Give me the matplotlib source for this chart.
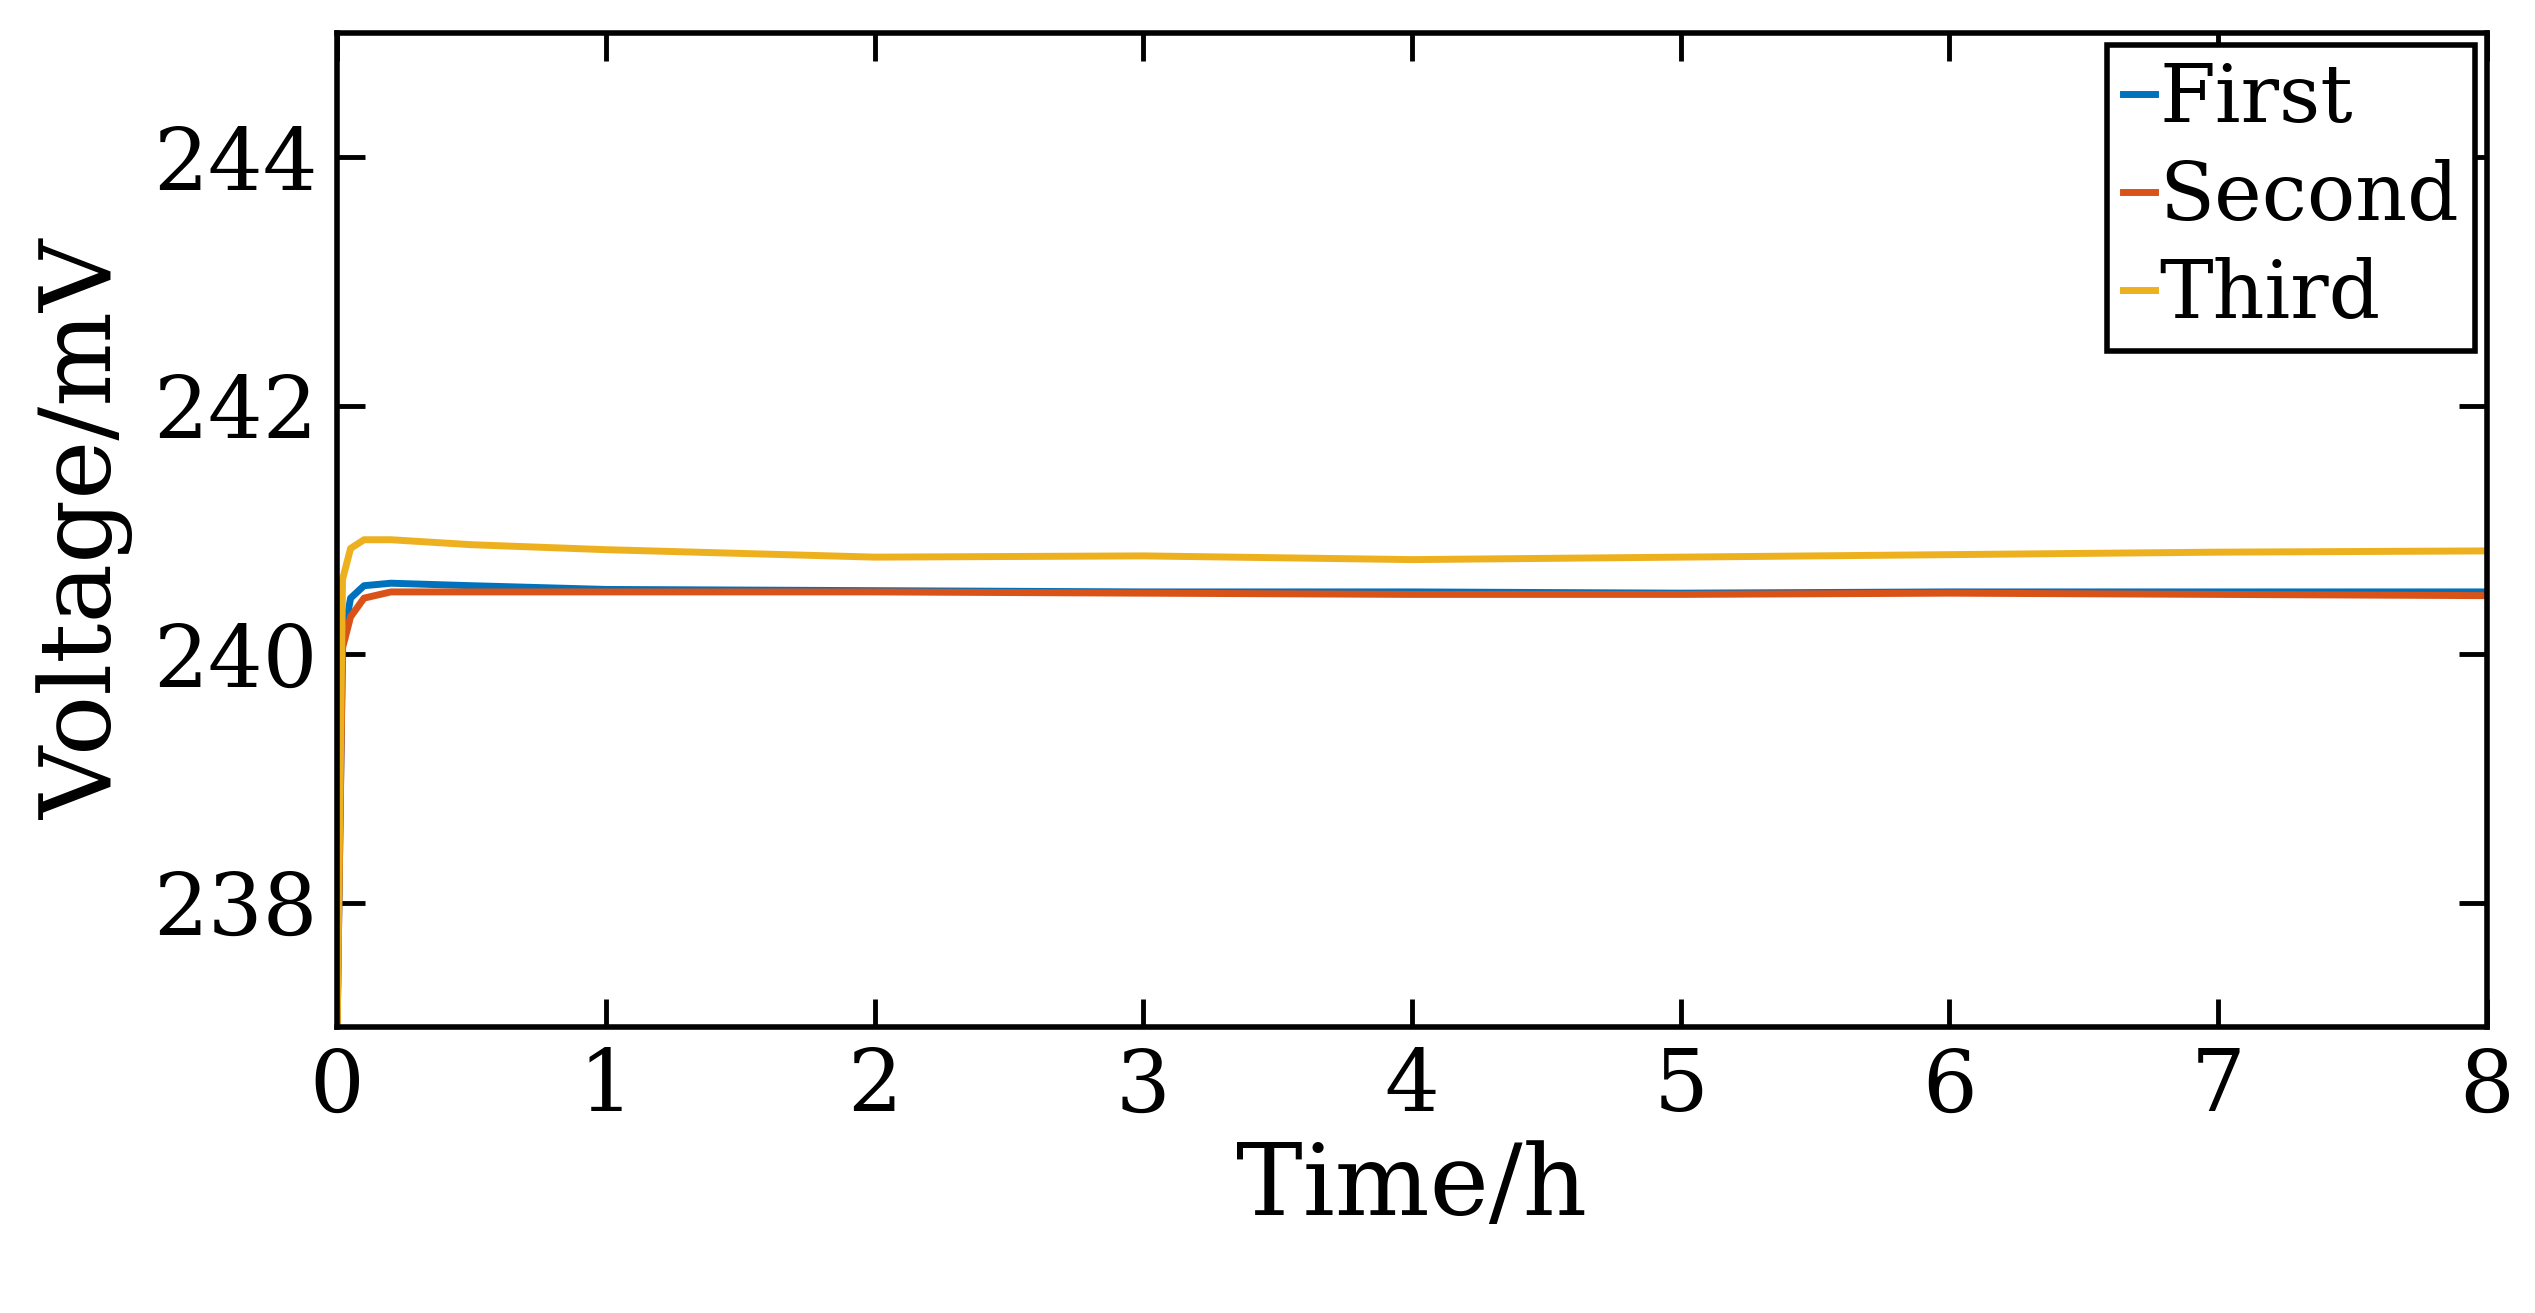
import numpy as np
import matplotlib
matplotlib.use('Agg')
import matplotlib.pyplot as plt

# values (time in h, voltage in mV)
t_first = [0.0, 0.02, 0.05, 0.1, 0.2, 0.5, 1.0, 2.0, 3.0, 4.0, 5.0, 6.0, 7.0, 8.0]
v_first = [237.0, 240.1, 240.45, 240.55, 240.57, 240.55, 240.52, 240.51, 240.5, 240.5, 240.49, 240.5, 240.5, 240.5]
t_second = [0.0, 0.02, 0.05, 0.1, 0.2, 0.5, 1.0, 2.0, 3.0, 4.0, 5.0, 6.0, 7.0, 8.0]
v_second = [237.0, 240.05, 240.3, 240.45, 240.5, 240.5, 240.5, 240.5, 240.49, 240.48, 240.48, 240.49, 240.48, 240.47]
t_third = [0.0, 0.02, 0.05, 0.1, 0.2, 0.5, 1.0, 2.0, 3.0, 4.0, 5.0, 6.0, 7.0, 8.0]
v_third = [237.0, 240.6, 240.85, 240.92, 240.92, 240.88, 240.84, 240.78, 240.79, 240.76, 240.78, 240.8, 240.82, 240.83]

plt.rcParams['font.family'] = ['DejaVu Serif']

fig = plt.figure(figsize=(25.35, 13.13), dpi=100)
ax = fig.add_axes([0.133, 0.218, 0.848, 0.757])
ax.plot(t_first, v_first, color='#0072BD', lw=5, label='First')
ax.plot(t_second, v_second, color='#D95319', lw=5, label='Second')
ax.plot(t_third, v_third, color='#EDB120', lw=5, label='Third')

ax.set_xlim(0, 8)
ax.set_ylim(237, 245)
ax.set_xticks(range(0, 9))
ax.set_yticks([238, 240, 242, 244])
ax.tick_params(direction='in', length=20, width=3.5, labelsize=62, pad=14,
               top=True, right=True)
for s in ax.spines.values():
    s.set_linewidth(4)
ax.set_xlabel('Time/h', fontsize=72, labelpad=8)
ax.set_ylabel('Voltage/mV', fontsize=72, labelpad=14)
leg = ax.legend(loc='upper right', fontsize=58, handlelength=0.4, handletextpad=0.05,
                borderpad=0.2, labelspacing=0.25, fancybox=False, framealpha=1,
                borderaxespad=0.15)
leg.get_frame().set_edgecolor('black')
leg.get_frame().set_linewidth(4)

fig.savefig('out.png', dpi=100)
